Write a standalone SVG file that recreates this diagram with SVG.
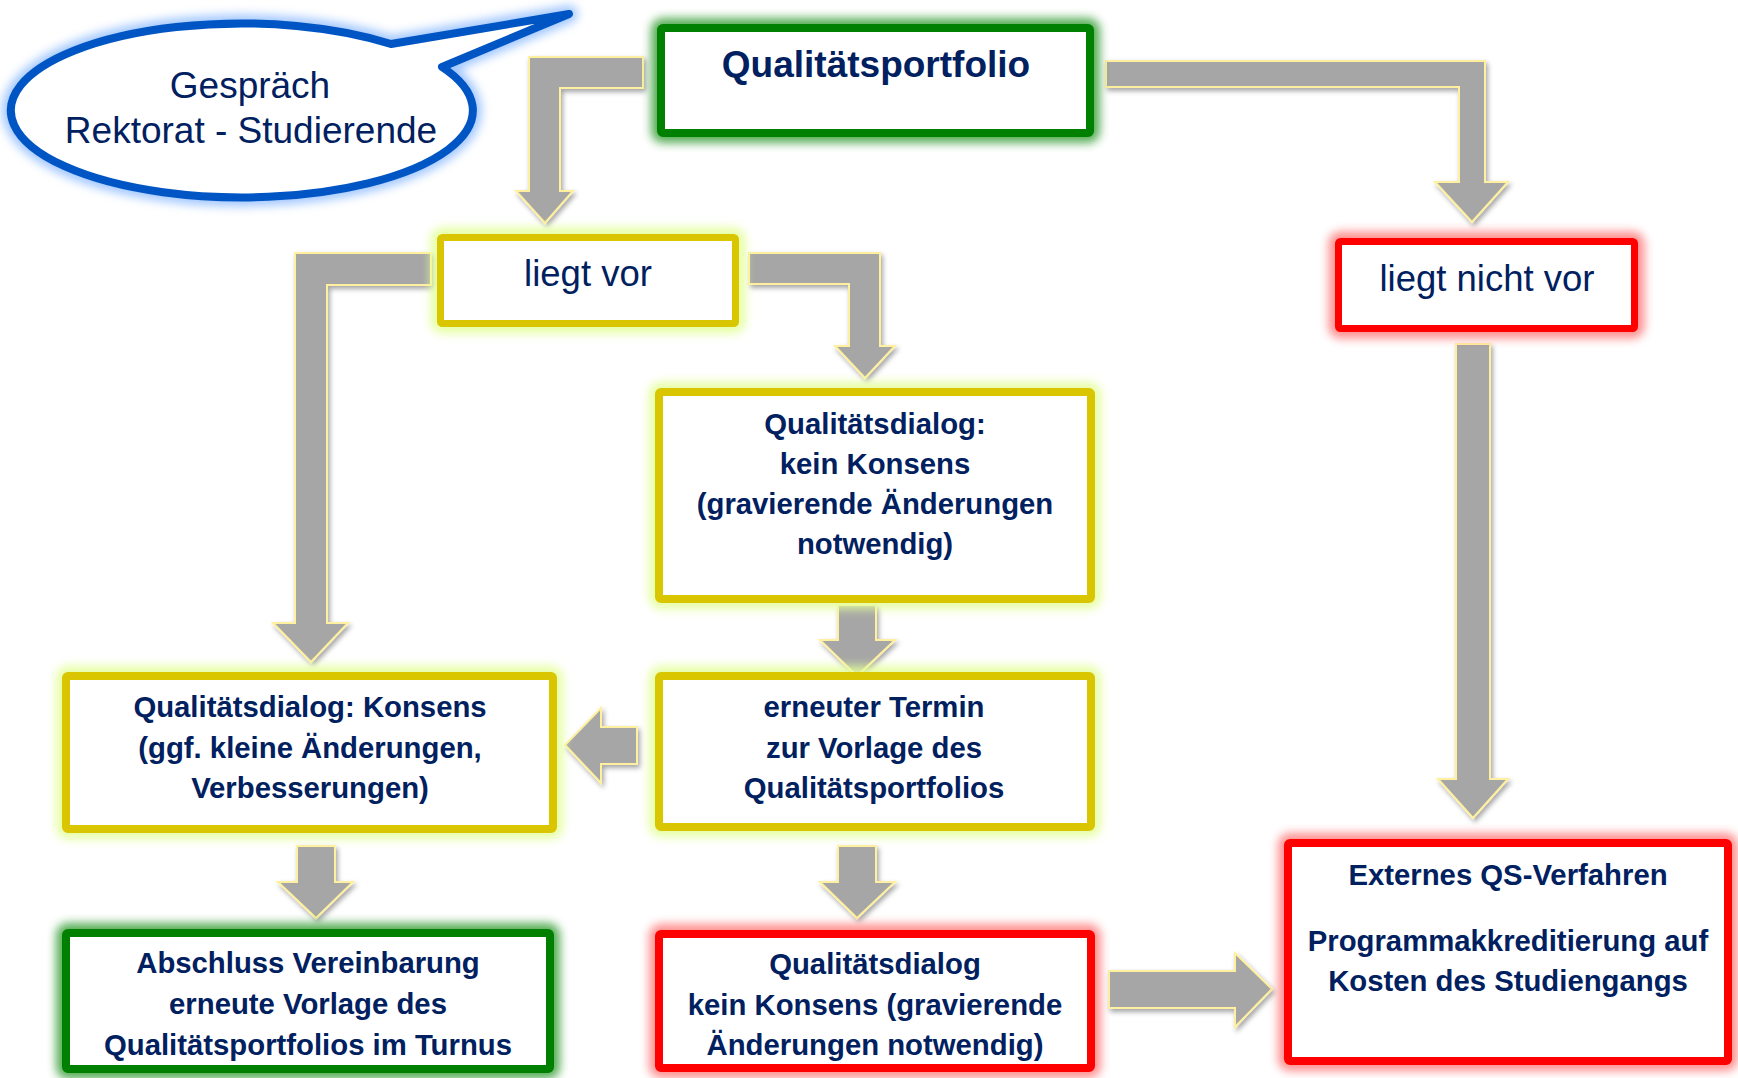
<svg xmlns="http://www.w3.org/2000/svg" width="1738" height="1078" viewBox="0 0 1738 1078">
<defs>
<filter id="blur" x="-20%" y="-40%" width="140%" height="180%"><feGaussianBlur stdDeviation="5"/></filter>
<filter id="shadow" x="-20%" y="-20%" width="150%" height="150%"><feDropShadow dx="2" dy="3" stdDeviation="2.5" flood-color="#000" flood-opacity="0.35"/></filter>
</defs>
<style>
.box{fill:#fff;}
.g{stroke:#008000;stroke-width:8;}
.y{stroke:#D9C500;stroke-width:8;}
.r{stroke:#FF0000;stroke-width:8;}
.gl{fill:none;stroke-width:20;filter:url(#blur);}
.glg{stroke:#2E9A2E;opacity:0.8;}
.gly{stroke:#E4FF9A;opacity:0.9;}
.glr{stroke:#FF6A6A;opacity:0.75;}
.arr{fill:#A6A6A6;stroke:#FFF0A0;stroke-width:2;stroke-linejoin:miter;filter:url(#shadow);}
text{font-family:"Liberation Sans",Arial,sans-serif;fill:#002060;text-anchor:middle;}
.b{font-weight:bold;font-size:29.3px;}
.reg{font-size:36.5px;}
</style>
<rect width="1738" height="1078" fill="#fff"/>

<g id="bubble">
<path d="M442,67 A231,87 0 1,1 391,44 L569,14 Z" fill="none" stroke="#8DBBFF" stroke-width="18" stroke-linejoin="round" filter="url(#blur)" opacity="0.8"/>
<path d="M442,67 A231,87 0 1,1 391,44 L569,14 Z" fill="#fff" stroke="#0055C4" stroke-width="8" stroke-linejoin="round"/>
<text x="250" y="98" style="font-size:37px">Gespräch</text>
<text x="251" y="143" style="font-size:37px">Rektorat - Studierende</text>
</g>

<g id="connectors">
<path class="arr" d="M643,57 H529 V191 H516 L545,223 L573,191 H560 V88 H643 Z"/>
<path class="arr" d="M431,253 H295 V623 H273 L311,662 L348,623 H327 V285 H431 Z"/>
<path class="arr" d="M749,253 H880 V346 H895 L865,378 L835,346 H849 V284 H749 Z"/>
<path class="arr" d="M1106,61 H1485 V182 H1508 L1472,222 L1435,182 H1459 V87 H1106 Z"/>
<path class="arr" d="M1456,344 V779 H1438 L1473,818 L1508,779 H1490 V344 Z"/>
<path class="arr" d="M838,605 V640 H820 L857,676 L895,640 H876 V605 Z"/>
<path class="arr" d="M637,727 V764 H601 V783 L565,745 L601,708 V727 Z"/>
<path class="arr" d="M297,846 V882 H278 L316,918 L353,882 H335 V846 Z"/>
<path class="arr" d="M838,846 V882 H820 L857,918 L895,882 H876 V846 Z"/>
<path class="arr" d="M1109,971 H1235 V953 L1272,989 L1235,1027 V1008 H1109 Z"/>
</g>

<g id="qualitaetsportfolio">
<rect class="gl glg" x="661" y="28" width="429" height="105" rx="2"/>
<rect class="box g" x="661" y="28" width="429" height="105" rx="2"/>
<text class="b" x="876" y="77" style="font-size:37px">Qualitätsportfolio</text>
</g>

<g id="liegt-vor">
<rect class="gl gly" x="440.5" y="237.5" width="295" height="86" rx="2"/>
<rect class="box y" style="stroke-width:7" x="440.5" y="237.5" width="295" height="86" rx="2"/>
<text class="reg" x="588" y="286">liegt vor</text>
</g>

<g id="liegt-nicht-vor">
<rect class="gl glr" x="1338.5" y="241.5" width="296" height="87" rx="2"/>
<rect class="box r" style="stroke-width:7" x="1338.5" y="241.5" width="296" height="87" rx="2"/>
<text class="reg" x="1487" y="291">liegt nicht vor</text>
</g>

<g id="kein-konsens">
<rect class="gl gly" x="659" y="392" width="432" height="207" rx="2"/>
<rect class="box y" x="659" y="392" width="432" height="207" rx="2"/>
<text class="b" x="875" y="434">Qualitätsdialog:</text>
<text class="b" x="875" y="474">kein Konsens</text>
<text class="b" x="875" y="514">(gravierende Änderungen</text>
<text class="b" x="875" y="554">notwendig)</text>
</g>

<g id="konsens">
<rect class="gl gly" x="66" y="676" width="487" height="153" rx="2"/>
<rect class="box y" x="66" y="676" width="487" height="153" rx="2"/>
<text class="b" x="310" y="717">Qualitätsdialog: Konsens</text>
<text class="b" x="310" y="758">(ggf. kleine Änderungen,</text>
<text class="b" x="310" y="798">Verbesserungen)</text>
</g>

<g id="erneuter-termin">
<rect class="gl gly" x="659" y="676" width="432" height="151" rx="2"/>
<rect class="box y" x="659" y="676" width="432" height="151" rx="2"/>
<text class="b" x="874" y="717">erneuter Termin</text>
<text class="b" x="874" y="758">zur Vorlage des</text>
<text class="b" x="874" y="798">Qualitätsportfolios</text>
</g>

<g id="abschluss">
<rect class="gl glg" x="66" y="933" width="484" height="136" rx="2"/>
<rect class="box g" x="66" y="933" width="484" height="136" rx="2"/>
<text class="b" x="308" y="973">Abschluss Vereinbarung</text>
<text class="b" x="308" y="1014">erneute Vorlage des</text>
<text class="b" x="308" y="1055">Qualitätsportfolios im Turnus</text>
</g>

<g id="qualitaetsdialog-kein-konsens">
<rect class="gl glr" x="659" y="934" width="432" height="134" rx="2"/>
<rect class="box r" x="659" y="934" width="432" height="134" rx="2"/>
<text class="b" x="875" y="974">Qualitätsdialog</text>
<text class="b" x="875" y="1015">kein Konsens (gravierende</text>
<text class="b" x="875" y="1055">Änderungen notwendig)</text>
</g>

<g id="externes">
<rect class="gl glr" x="1288" y="843" width="440" height="218" rx="2"/>
<rect class="box r" x="1288" y="843" width="440" height="218" rx="2"/>
<text class="b" x="1508" y="885">Externes QS-Verfahren</text>
<text class="b" x="1508" y="951">Programmakkreditierung auf</text>
<text class="b" x="1508" y="991">Kosten des Studiengangs</text>
</g>
</svg>
